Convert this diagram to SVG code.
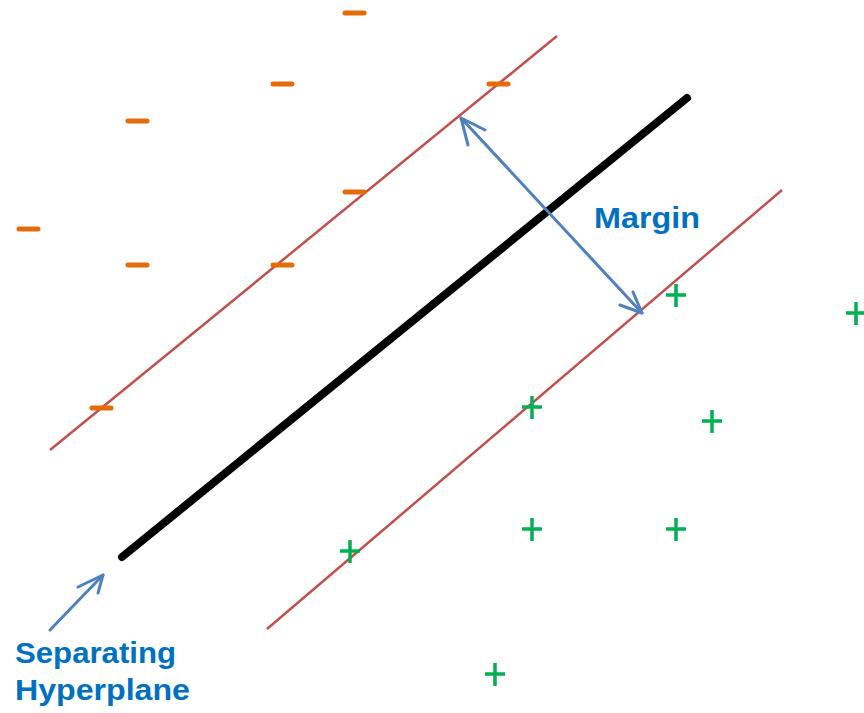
<svg xmlns="http://www.w3.org/2000/svg" width="864" height="713" viewBox="0 0 864 713">
<style>
.margin{stroke:#C0504D;stroke-width:2.5;fill:none}
.hyper{stroke:#000;stroke-width:8;fill:none;stroke-linecap:round}
.arr{stroke:#4F81BD;stroke-width:3;fill:none;stroke-linecap:round;stroke-linejoin:round}
.neg{stroke:#E36C09;stroke-width:5;stroke-linecap:round}
.pos{stroke:#00B050;stroke-width:3.5}
.lbl{font-family:"Liberation Sans",Arial,sans-serif;font-weight:bold;fill:#0070C0}
</style>
<rect width="864" height="713" fill="#fff"/>
<g id="lines">
<line class="margin" x1="50" y1="450" x2="557" y2="36"/>
<line class="margin" x1="267" y1="629" x2="782" y2="190"/>
<line class="hyper" x1="122" y1="557" x2="687" y2="98"/>
</g>
<g id="negatives">
<line class="neg" x1="345" y1="13" x2="364" y2="13"/>
<line class="neg" x1="273" y1="84" x2="292" y2="84"/>
<line class="neg" x1="489" y1="84" x2="508" y2="84"/>
<line class="neg" x1="128" y1="121" x2="147" y2="121"/>
<line class="neg" x1="345" y1="192" x2="364" y2="192"/>
<line class="neg" x1="19" y1="229" x2="38" y2="229"/>
<line class="neg" x1="128" y1="265" x2="147" y2="265"/>
<line class="neg" x1="273" y1="265" x2="292" y2="265"/>
<line class="neg" x1="92" y1="408" x2="111" y2="408"/>
</g>
<g id="positives">
<path class="pos" d="M666 295h20M676 284v23"/>
<path class="pos" d="M846 313h20M856 302v23"/>
<path class="pos" d="M522 407h20M532 396v23"/>
<path class="pos" d="M702 421h20M712 410v23"/>
<path class="pos" d="M522 529h20M532 518v23"/>
<path class="pos" d="M666 529h20M676 518v23"/>
<path class="pos" d="M340 551h20M350 540v23"/>
<path class="pos" d="M485 674h20M495 663v23"/>
</g>
<g id="connectors">
<path class="arr" d="M461 118L642 313"/>
<path class="arr" d="M485 130L461 118L468 145"/>
<path class="arr" d="M620 305L642 313L633 292"/>
<path class="arr" d="M50 630L103 575"/>
<path class="arr" d="M78 587L103 575L98 593"/>
</g>
<g id="labels">
<text class="lbl" x="594" y="228" font-size="29" textLength="106" lengthAdjust="spacingAndGlyphs">Margin</text>
<text class="lbl" x="15" y="663" font-size="29" textLength="161" lengthAdjust="spacingAndGlyphs">Separating</text>
<text class="lbl" x="15" y="700" font-size="29" textLength="175" lengthAdjust="spacingAndGlyphs">Hyperplane</text>
</g>
</svg>
